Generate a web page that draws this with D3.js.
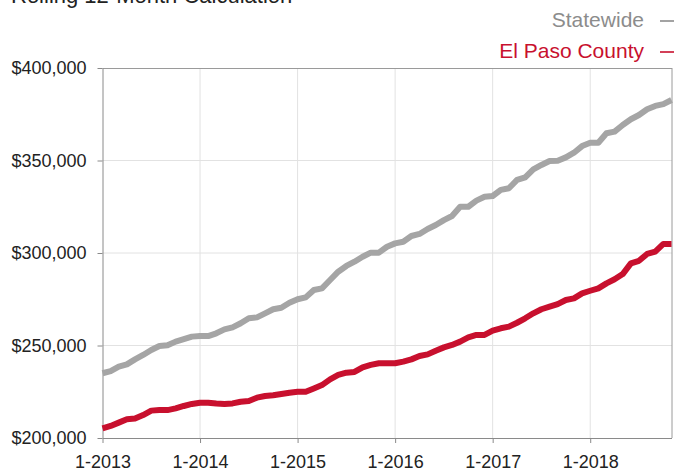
<!DOCTYPE html>
<html>
<head>
<meta charset="utf-8">
<script src="https://cdn.jsdelivr.net/npm/d3@7"></script>
<style>
  body { margin: 0; background: #fff; }
  svg { display: block; font-family: "Liberation Sans", Arial, sans-serif; }
  .axis path, .axis line { stroke: #8a8a8a; }
  .axis text { font-size: 18px; fill: #222; }
  .grid line { stroke: #e2e2e2; stroke-width: 1; }
</style>
</head>
<body>
<div id="chart"></div>
<script>
const WIDTH = 674, HEIGHT = 470;
const TITLE = "Rolling 12-Month Calculation";
const SERIES_NAMES = ["Statewide", "El Paso County"];
const SERIES_COLORS = ["#a5a5a5", "#c8102e"];
const LEGEND_COLORS = ["#8c8c8c", "#c8102e"];
const X_TICK_LABELS = ["1-2013", "1-2014", "1-2015", "1-2016", "1-2017", "1-2018"];
const Y_TICKS = [200000, 250000, 300000, 350000, 400000];

// monthly values, Jan 2013 .. Nov 2018 (thousands of dollars)
const statewide = [
  235.0, 236.2, 238.6, 239.8, 242.5, 244.9, 247.6, 249.7, 250.1, 252.1, 253.4, 254.8,
  255.1, 255.1, 256.6, 258.7, 259.8, 262.0, 264.7, 265.2, 267.4, 269.6, 270.4, 273.1,
  275.0, 276.0, 280.0, 280.9, 285.4, 289.9, 293.0, 295.3, 298.0, 300.2, 300.2, 303.4,
  305.2, 306.1, 309.2, 310.3, 313.0, 315.1, 317.8, 320.0, 325.0, 325.0, 328.3, 330.4,
  330.8, 334.1, 335.0, 339.5, 340.9, 345.2, 347.6, 349.7, 349.9, 351.7, 354.2, 357.8,
  359.6, 359.6, 364.7, 365.6, 369.2, 372.3, 374.6, 377.7, 379.5, 380.5, 382.7
];
const elPaso = [
  205.2, 206.5, 208.3, 210.1, 210.5, 212.4, 214.8, 215.1, 215.1, 216.0, 217.3, 218.4,
  219.1, 219.1, 218.7, 218.4, 218.7, 219.6, 220.0, 221.8, 222.7, 223.1, 223.8, 224.5,
  225.0, 225.0, 226.8, 228.6, 231.7, 234.1, 235.3, 235.7, 238.2, 239.5, 240.4, 240.4,
  240.4, 241.3, 242.5, 244.3, 245.2, 247.2, 249.0, 250.3, 252.1, 254.4, 255.7, 255.7,
  258.0, 259.3, 260.2, 262.3, 264.7, 267.4, 269.6, 271.0, 272.4, 274.6, 275.5, 278.2,
  279.6, 280.9, 283.6, 285.8, 288.6, 294.4, 295.8, 299.5, 300.7, 304.9, 304.9
];

const margin = { top: 68, right: 2, bottom: 32, left: 102.5 };
const x = d3.scaleLinear().domain([0, 70]).range([margin.left, 671.5]);
const y = d3.scaleLinear().domain([200000, 400000]).range([438, 68]);

const svg = d3.select("#chart").append("svg")
  .attr("width", WIDTH).attr("height", HEIGHT);

// Title (partly cut off at the top)
svg.append("text").attr("x", 11).attr("y", 3)
  .attr("font-size", 22).attr("fill", "#222").text(TITLE);

// Gridlines
const grid = svg.append("g").attr("class", "grid");
grid.selectAll(".v").data(d3.range(12, 61, 12)).enter().append("line")
  .attr("x1", d => x(d)).attr("x2", d => x(d))
  .attr("y1", y(400000)).attr("y2", y(200000));
grid.selectAll(".h").data(Y_TICKS.slice(1, -1)).enter().append("line")
  .attr("x1", x(0)).attr("x2", 672)
  .attr("y1", d => y(d)).attr("y2", d => y(d));

// frame top / right
svg.append("line").attr("x1", x(0)).attr("x2", 672)
  .attr("y1", y(400000) + 0.5).attr("y2", y(400000) + 0.5).attr("stroke", "#9a9a9a");
svg.append("line").attr("x1", 672).attr("x2", 672)
  .attr("y1", y(400000)).attr("y2", y(200000)).attr("stroke", "#9a9a9a");

// Axes
svg.append("g").attr("class", "axis")
  .attr("transform", `translate(${x(0)},0)`)
  .call(d3.axisLeft(y).tickValues(Y_TICKS).tickSize(5).tickPadding(11).tickSizeOuter(0)
    .tickFormat(d => "$" + d3.format(",")(d)));
svg.append("g").attr("class", "axis")
  .attr("transform", `translate(0,${y(200000)})`)
  .call(d3.axisBottom(x).tickValues(d3.range(0, 61, 12)).tickSize(5).tickPadding(12).tickSizeOuter(0)
    .tickFormat((d, i) => X_TICK_LABELS[i]));

// Lines
const line = d3.line()
  .x((d, i) => x(i))
  .y(d => y(d * 1000));

[statewide, elPaso].forEach((data, k) => {
  svg.append("path").datum(data)
    .attr("fill", "none")
    .attr("stroke", SERIES_COLORS[k])
    .attr("stroke-width", 6)
    .attr("stroke-linejoin", "round")
    .attr("d", line);
});

// Legend
const legendY = [27, 58];
SERIES_NAMES.forEach((name, k) => {
  svg.append("text").attr("x", 644).attr("y", legendY[k])
    .attr("text-anchor", "end").attr("font-size", 21)
    .attr("fill", LEGEND_COLORS[k]).text(name);
  svg.append("line").attr("x1", 660).attr("x2", 674)
    .attr("y1", legendY[k] - 6).attr("y2", legendY[k] - 6)
    .attr("stroke", LEGEND_COLORS[k]).attr("stroke-width", 1.6);
});
</script>
</body>
</html>
